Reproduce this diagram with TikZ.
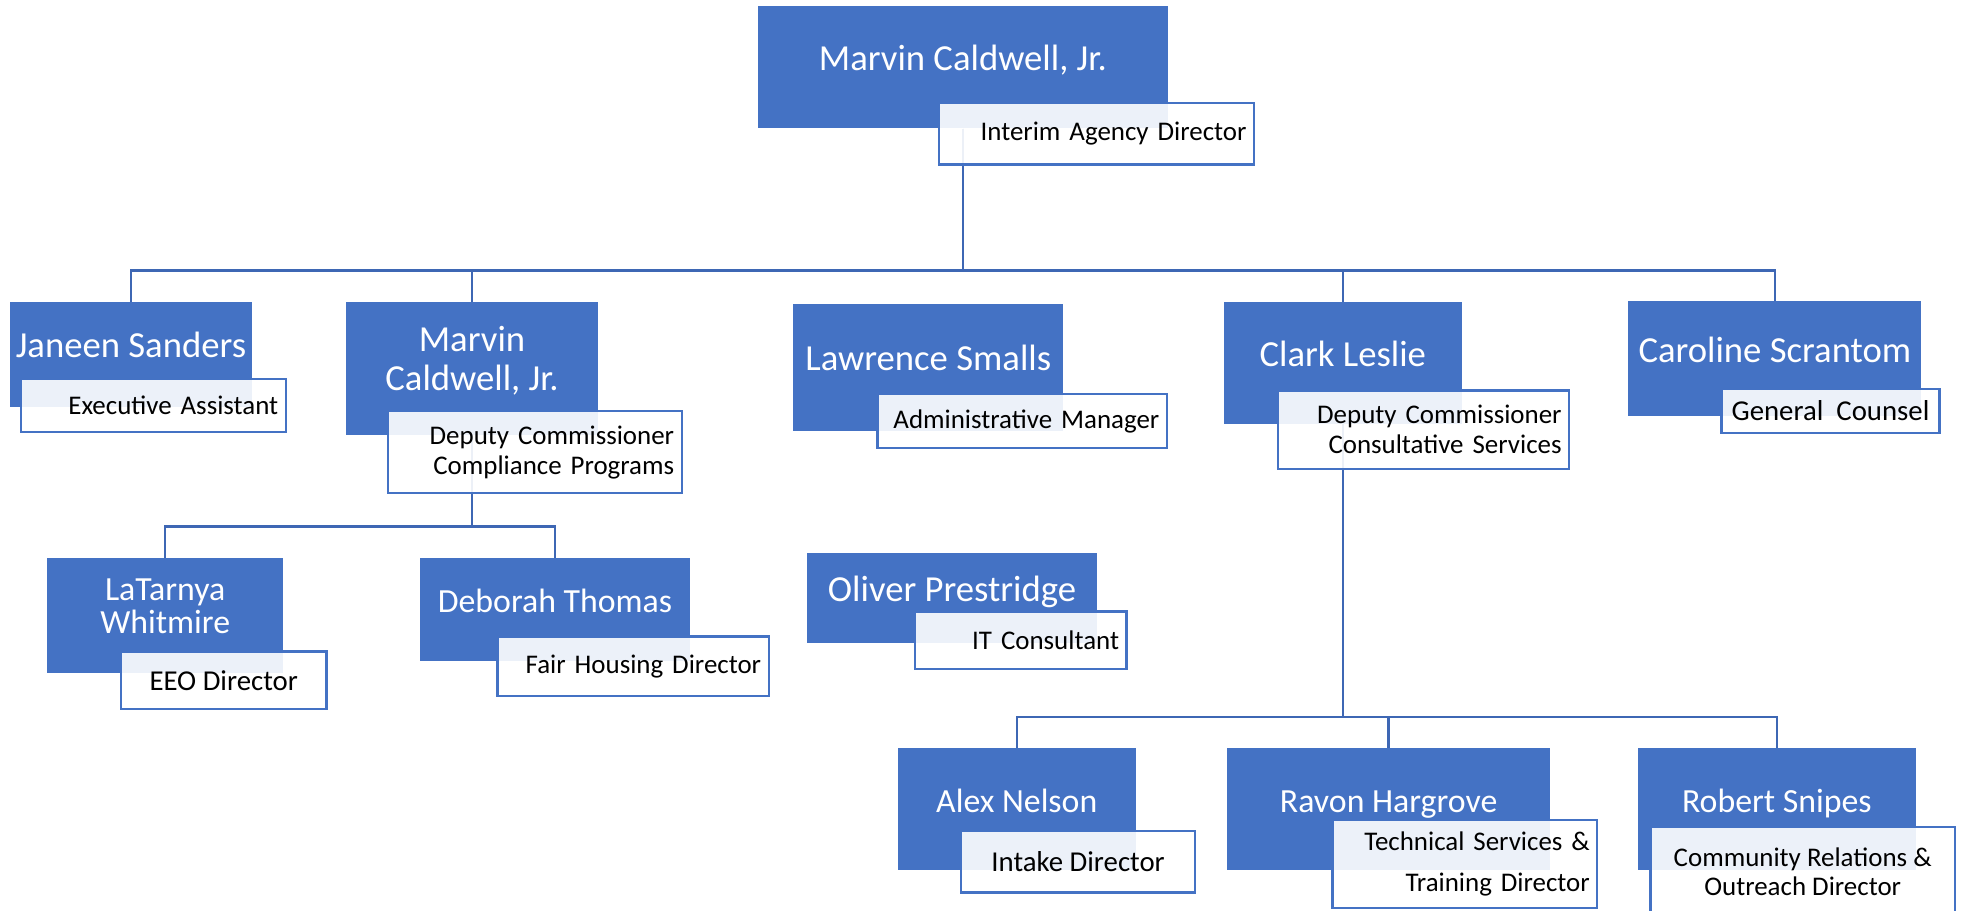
\documentclass[tikz,border=0pt]{standalone}
\usepackage{fontspec}
\setmainfont{Carlito}
\usepackage{xcolor}
\usepackage{tikz}
\usetikzlibrary{positioning}
\pgfdeclarelayer{background}
\pgfsetlayers{background,main}

\definecolor{ocblue}{HTML}{4472C4}
\definecolor{ocline}{HTML}{3E67B4}
% strut that lifts a name a little above the middle of its box
\newcommand{\nmstrut}{\rule[-0.55em]{0pt}{1.3em}}

\begin{document}
\begin{tikzpicture}[x=1pt,y=-1pt,
    person/.style={fill=ocblue, text=white, inner sep=0pt, align=center,
      font=\fontsize{29.3}{30}\selectfont},
    small/.style={font=\fontsize{27}{26.6}\selectfont},
    role/.style={draw=ocblue, line width=1.8pt, fill=white, fill opacity=0.9,
      text opacity=1, text=black, inner xsep=6pt, inner ysep=0pt,
      font=\fontsize{21.5}{24}\selectfont},
    bigrole/.style={font=\fontsize{23}{24}\selectfont},
    conn/.style={draw=ocline, line width=2pt}]
  \useasboundingbox (0,0) rectangle (1568,727);

  % agency director
  \node[person, minimum width=327, minimum height=97.7] (top) at (769.1,53.65) {Marvin Caldwell, Jr.\nmstrut};
  \node[role, text width=239.6, align=right, minimum height=49.5] (topr) at (875.8,106.75) {Interim Agency Director};

  % first level
  \node[person, minimum width=193.6, minimum height=83.6] (janeen) at (104.6,283) {Janeen Sanders\nmstrut};
  \node[role, text width=199.5, align=right, minimum height=42] (janeenr) at (122.45,324) {Executive Assistant};

  \node[person, minimum width=201.5, minimum height=106.5] (marvinb) at (377.05,294.25) {Marvin\\[1.5pt]Caldwell, Jr.\nmstrut};
  \node[role, text width=222.5, align=right, minimum height=65.7] (marvinbr) at (427.25,361.15) {Deputy Commissioner\\Compliance Programs};

  \node[person, minimum width=215.8, minimum height=101.2] (lawrence) at (741.5,293.4) {Lawrence Smalls\nmstrut};
  \node[role, text width=219.1, align=right, minimum height=43.3] (lawrencer) at (816.45,336.35) {Administrative Manager};

  \node[person, minimum width=190.2, minimum height=97.5] (clark) at (1072.6,289.95) {Clark Leslie\nmstrut};
  \node[role, text width=220.8, align=right, minimum height=62.5] (clarkr) at (1137,343.25) {Deputy Commissioner\\Consultative Services};

  \node[person, minimum width=234.1, minimum height=91.3] (caroline) at (1417.75,286.35) {Caroline Scrantom\nmstrut};
  \node[role, bigrole, minimum width=174.3, align=center, minimum height=34.9] (caroliner) at (1462.15,328.15) {General\ \ Counsel};

  % compliance programs
  \node[person, small, minimum width=188.1, minimum height=92.2] (latarnya) at (131.95,491.5) {LaTarnya\\Whitmire\nmstrut};
  \node[role, bigrole, minimum width=164.2, align=center, minimum height=45.8] (latarnyar) at (178.7,543.4) {EEO Director};

  \node[person, small, minimum width=215.9, minimum height=82.3] (deborah) at (443.35,486.55) {Deborah Thomas\nmstrut};
  \node[role, text width=204.7, align=right, minimum height=47.4] (deborahr) at (505.65,532.2) {Fair Housing Director};

  \node[person, minimum width=231.2, minimum height=71.8] (oliver) at (760.4,477.9) {Oliver Prestridge\nmstrut};
  \node[role, text width=157.1, align=right, minimum height=46.1] (oliverr) at (815.35,511.55) {IT Consultant};

  % consultative services
  \node[person, small, minimum width=190.3, minimum height=97.2] (alex) at (812.15,646.3) {Alex Nelson\nmstrut};
  \node[role, bigrole, minimum width=186.5, align=center, minimum height=49.3] (alexr) at (861.15,688.35) {Intake Director};

  \node[person, small, minimum width=258.4, minimum height=97.2] (ravon) at (1109.2,646.3) {Ravon Hargrove\nmstrut};
  \node[role, text width=199.5, align=right, minimum height=70] (ravonr) at (1170.15,690) {Technical Services \&\\[9pt]Training Director};

  \node[person, small, minimum width=222.2, minimum height=97.2] (robert) at (1419.3,646.3) {Robert Snipes\nmstrut};
  \node[role, minimum width=243.1, align=center, minimum height=71.2] (robertr) at (1439.95,696.4) {Community Relations \&\\[-1.4pt]Outreach Director};

  \coordinate (bus1) at (0,216.2);
  \coordinate (bus2) at (0,420.7);
  \coordinate (bus3) at (0,572.9);

  \begin{pgfonlayer}{background}
    \foreach \kid in {janeen,marvinb,clark,caroline}
      \draw[conn] (top.south) -- (top.south |- bus1) -| ([yshift=-2.5]\kid.north);
    \foreach \kid in {latarnya,deborah}
      \draw[conn] (marvinb.south) -- (marvinb.south |- bus2) -| ([yshift=-2.5]\kid.north);
    \foreach \kid in {alex,ravon,robert}
      \draw[conn] (clark.south) -- (clark.south |- bus3) -| ([yshift=-2.5]\kid.north);
  \end{pgfonlayer}
\end{tikzpicture}
\end{document}
